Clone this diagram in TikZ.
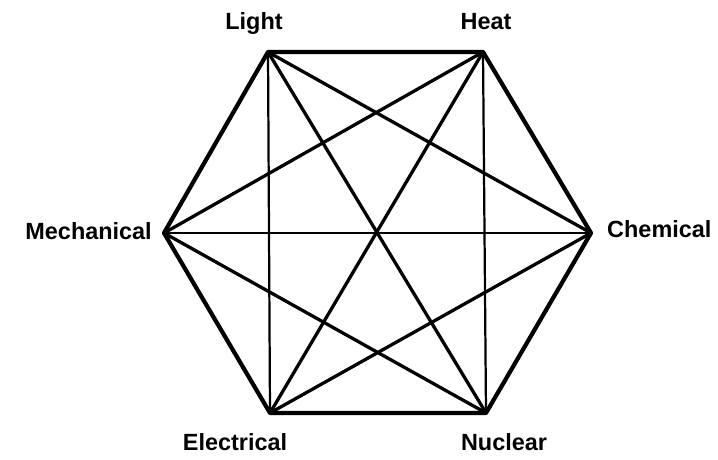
\documentclass[tikz,border=0pt]{standalone}
\usepackage{fontspec}
\setmainfont{Liberation Sans}
\usepackage{tikz}
\usetikzlibrary{positioning}

\begin{document}
\begin{tikzpicture}[
    edgeline/.style={draw=black, line width=3.6pt, line join=round, line cap=round},
    diagline/.style={draw=black, line width=2.8pt, line cap=round},
    thinline/.style={draw=black, line width=1.9pt, line cap=round},
    formlabel/.style={font=\fontsize{20}{24}\selectfont\bfseries, inner sep=0pt}
]
    \useasboundingbox (0,0) rectangle (21.54,13.77);

    % corners of the hexagon
    \coordinate (light) at (8.04,12.21);
    \coordinate (heat) at (14.49,12.21);
    \coordinate (chem) at (17.73,6.78);
    \coordinate (nuc) at (14.58,1.38);
    \coordinate (elec) at (8.10,1.38);
    \coordinate (mech) at (4.92,6.78);

    % Labels
    \node[formlabel, anchor=base] (lightlbl) at (7.62,12.87) {Light};
    \node[formlabel, anchor=base] (heatlbl) at (14.58,12.87) {Heat};
    \node[formlabel, anchor=base east] (mechlbl) at (4.56,6.57) {Mechanical};
    \node[formlabel, anchor=base west] (chemlbl) at (18.21,6.63) {Chemical};
    \node[formlabel, anchor=base] (eleclbl) at (7.05,0.27) {Electrical};
    \node[formlabel, anchor=base] (nuclbl) at (15.12,0.27) {Nuclear};

    % thin straight lines
    \draw[thinline] (light) -- (elec);
    \draw[thinline] (heat) -- (nuc);
    \draw[thinline] (mech) -- (chem);

    % diagonals
    \draw[diagline] (light) -- (chem);
    \draw[diagline] (light) -- (nuc);
    \draw[diagline] (heat) -- (mech);
    \draw[diagline] (heat) -- (elec);
    \draw[diagline] (chem) -- (elec);
    \draw[diagline] (nuc) -- (mech);

    % outer hexagon
    \draw[edgeline] (light) -- (heat) -- (chem) -- (nuc) -- (elec) -- (mech) -- cycle;
\end{tikzpicture}
\end{document}
